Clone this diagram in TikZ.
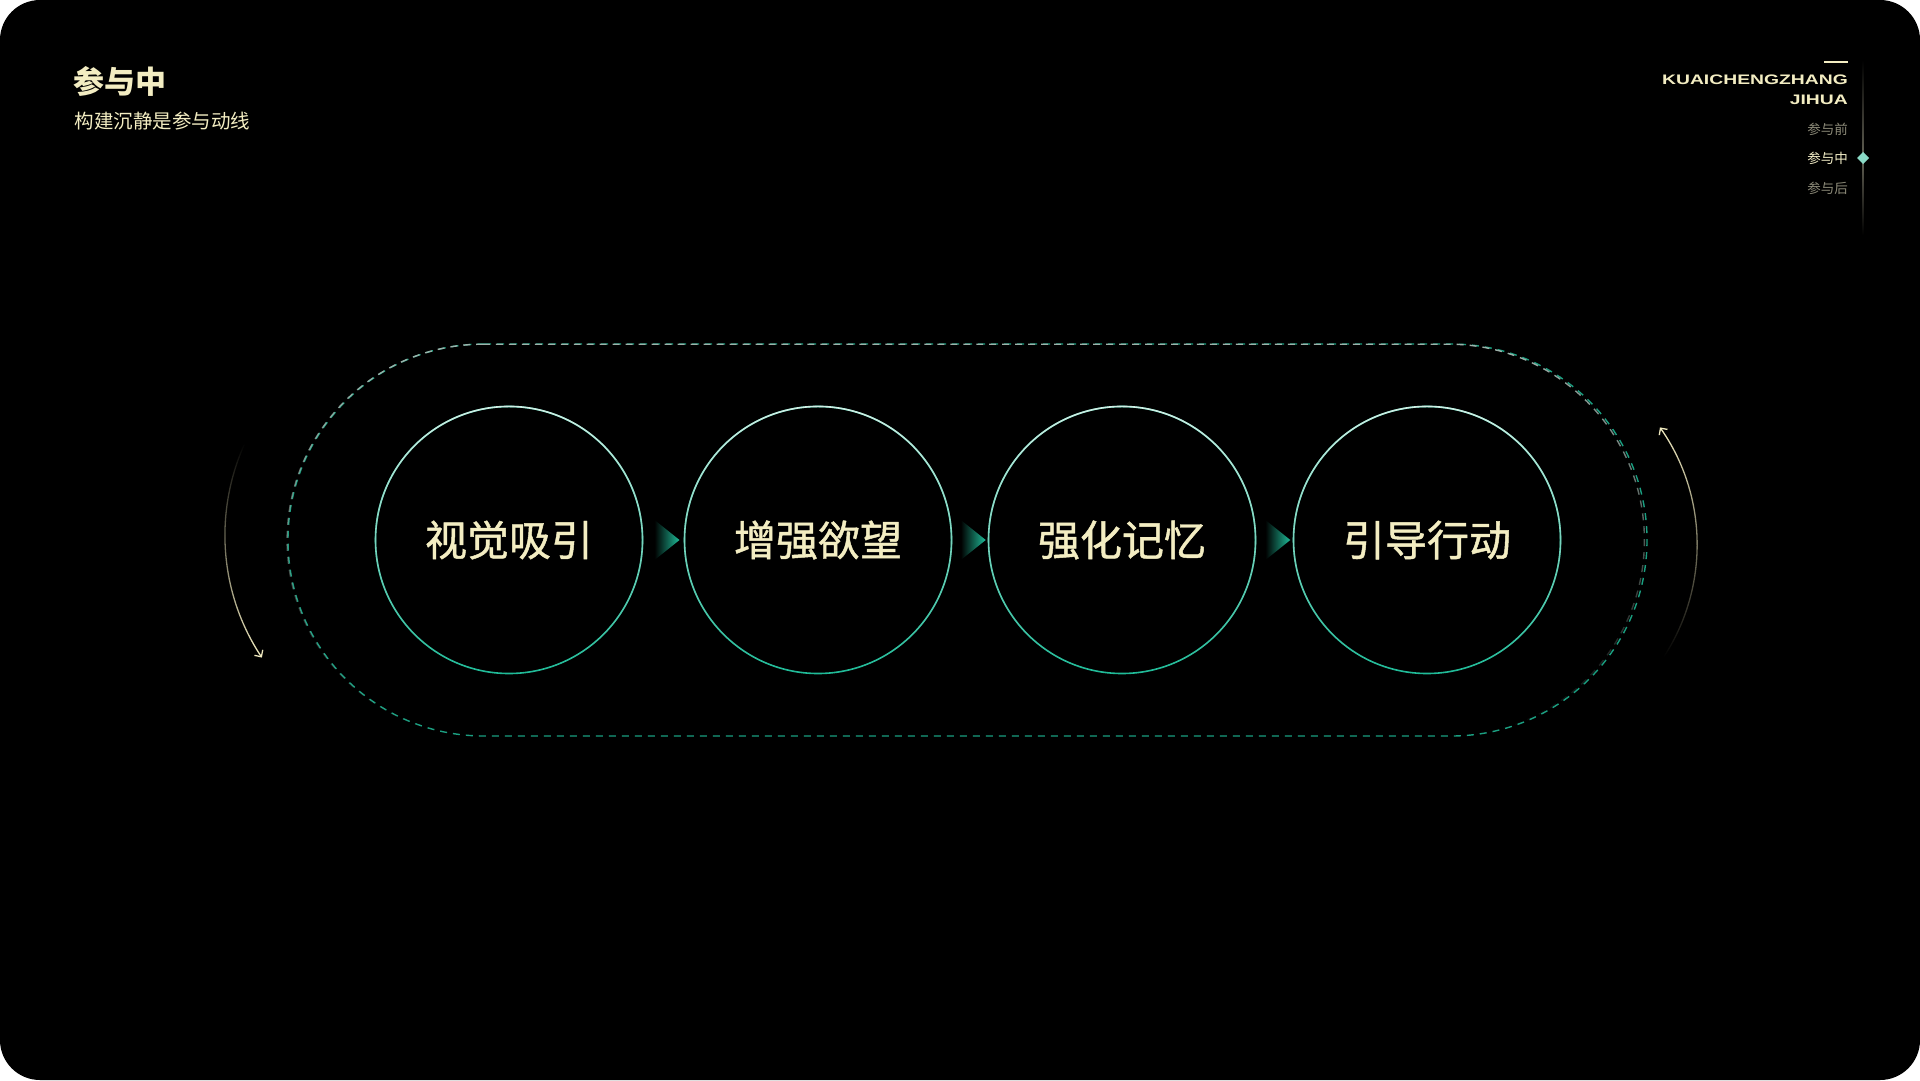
\documentclass[tikz,border=0pt]{standalone}
\usepackage{fontspec}
\newfontfamily\cjk{Noto Sans CJK SC}
\newfontfamily\cjkmid[FakeBold=1.1]{Noto Sans CJK SC}
\newfontfamily\widefont[FakeStretch=1.4]{Liberation Sans}
\usetikzlibrary{arrows.meta, positioning, calc, fadings}

\definecolor{cream}{HTML}{F3EDC2}
\definecolor{teal}{HTML}{1FBB98}
\definecolor{mint}{HTML}{D2EEE5}
\definecolor{greyline}{HTML}{9FB3AC}
\definecolor{menugrey}{HTML}{8C8A78}

\tikzfading[name=fadedown, top color=transparent!0, bottom color=transparent!100]
\tikzfading[name=fadeup, top color=transparent!100, bottom color=transparent!0]

\tikzset{
  stepcircle/.style={circle, minimum size=267pt, inner sep=0pt, draw=teal, line width=1.6pt,
    text=cream, font=\cjkmid\fontsize{42}{50}\selectfont},
  ringtop/.style={draw=mint, line width=1.6pt, path fading=fadedown},
  loopline/.style={dash pattern=on 7pt off 6pt, line width=1.4pt},
  turn/.style={draw=cream, line width=1.3pt, -{Straight Barb[length=5pt,width=10pt]}},
  menu/.style={font=\cjk\fontsize{13.5}{15}\selectfont, anchor=east, text=menugrey}
}

\begin{document}
\begin{tikzpicture}[x=1pt, y=-1pt]
\useasboundingbox (0,0) rectangle (1920,1080);
\fill[white] (0,0) rectangle (1920,1080);
\fill[black, rounded corners=40pt] (0,0) rectangle (1920,1080);

% title
\node[anchor=west, text=cream, font=\cjk\bfseries\fontsize{31}{36}\selectfont] (title) at (70,81) {参与中};
\node[anchor=west, text=cream, font=\cjk\fontsize{19.5}{22}\selectfont] (subtitle) at (71,121) {构建沉静是参与动线};

% side menu
\fill[cream] (1824,61) rectangle (1848,63);
\node[anchor=east, text=cream, font=\widefont\bfseries\fontsize{13.8}{16}\selectfont, inner sep=0pt] (brand) at (1848,80) {KUAICHENGZHANG};
\node[anchor=east, text=cream, font=\widefont\bfseries\fontsize{13.8}{16}\selectfont, inner sep=0pt] (brand2) at (1848,100) {JIHUA};
\node[menu, inner sep=0pt] (before) at (1848,129) {参与前};
\node[menu, inner sep=0pt, text=cream!90!white] (during) at (1848,158) {参与中};
\node[menu, inner sep=0pt] (after) at (1848,188) {参与后};
\shade[top color=black, bottom color=menugrey!70!black] (1862.2,60) rectangle (1863.8,158);
\shade[top color=menugrey!70!black, bottom color=black] (1862.2,158) rectangle (1863.8,235);
\fill[mint!60!teal] (1863,152) -- (1869,158) -- (1863,164) -- (1857,158) -- cycle;

% dashed loop
\draw[teal!85!black, loopline] (484,344) -- (1451,344) arc[start angle=-90, end angle=90, radius=196]
  -- (484,736) arc[start angle=90, end angle=270, radius=196];
\draw[greyline, loopline, path fading=fadedown] (484,344) -- (1451,344) arc[start angle=-90, end angle=90, radius=196]
  -- (484,736) arc[start angle=90, end angle=270, radius=196];

% steps
\node[stepcircle] (c1) at (509,540) {视觉吸引};
\node[stepcircle] (c2) at (818,540) {增强欲望};
\node[stepcircle] (c3) at (1122,540) {强化记忆};
\node[stepcircle] (c4) at (1427,540) {引导行动};
\foreach \n in {c1,c2,c3,c4}
  \draw[ringtop] (\n) circle (133.5);

% little arrows between steps
\foreach \a/\b in {c1/c2, c2/c3, c3/c4} {
  \coordinate (m\a) at ($(\a.east)!0.55!(\b.west)$);
  \shade[left color=black, right color=teal] ([shift={(-11,-20)}]m\a) -- ([shift={(14,0)}]m\a)
    -- ([shift={(-11,20)}]m\a) -- cycle;
}

% turning arrows
\coordinate (lc) at (447,535);
\coordinate (rc) at (1492,545);
\draw[turn, path fading=fadeup] (lc) ++(204.5:222) arc[start angle=204.5, end angle=146.5, radius=222];
\draw[turn, path fading=fadedown] (rc) ++(33:205) arc[start angle=33, end angle=-35, radius=205];
\end{tikzpicture}
\end{document}
